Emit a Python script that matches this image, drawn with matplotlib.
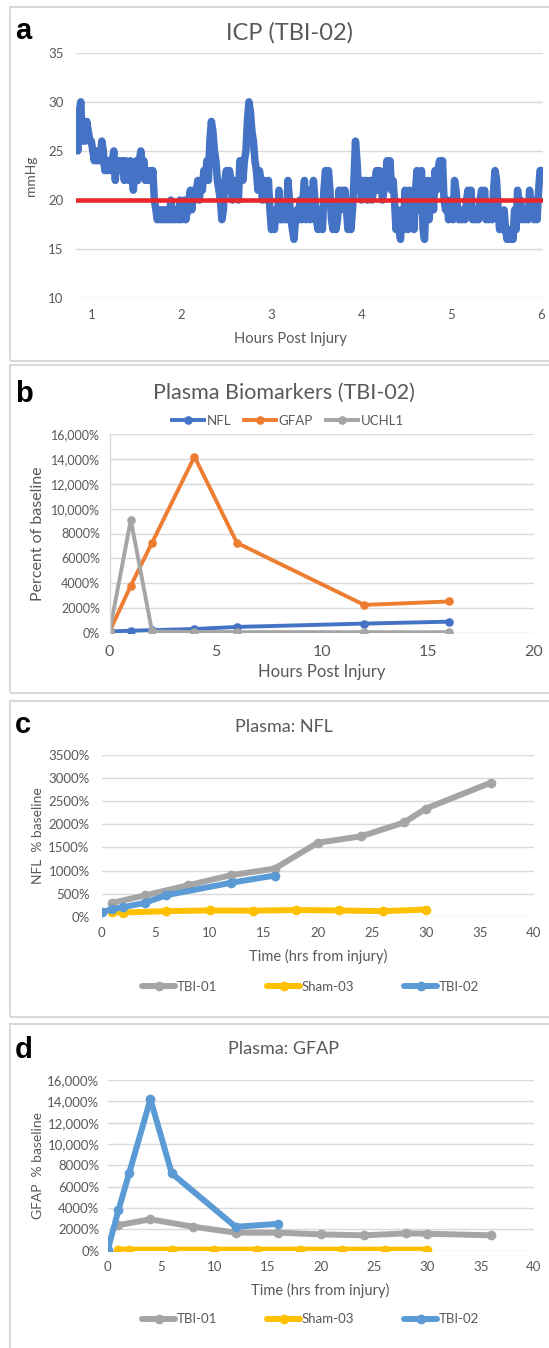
import numpy as np
import matplotlib
matplotlib.use("Agg")
import matplotlib.pyplot as plt
from matplotlib.patches import Rectangle

# ---------------- data ----------------
# (a) ICP trace, one reading per minute starting at minute 50 post injury
icp_start_min = 50
icp_mmhg = [
    27, 25, 29, 30, 26, 28, 26, 28, 27, 26,
    26, 25, 24, 25, 24, 25, 24, 26, 25, 23,
    24, 23, 24, 23, 24, 25, 22, 24, 23, 24,
    23, 24, 22, 24, 23, 22, 24, 23, 21, 23,
    24, 22, 24, 25, 23, 24, 22, 23, 22, 23,
    22, 23, 20, 19, 18, 19, 18, 19, 18, 19,
    18, 19, 18, 20, 18, 19, 18, 19, 18, 20,
    18, 19, 20, 18, 19, 20, 21, 19, 21, 20,
    21, 22, 20, 22, 21, 23, 22, 24, 22, 26,
    28, 27, 25, 24, 22, 21, 20, 18, 19, 22,
    23, 21, 23, 22, 20, 22, 21, 22, 20, 24,
    24, 22, 24, 25, 28, 30, 29, 27, 26, 24,
    23, 21, 23, 22, 20, 22, 21, 20, 22, 19,
    17, 18, 17, 19, 18, 21, 18, 19, 18, 19,
    18, 22, 20, 18, 17, 16, 18, 19, 18, 20,
    18, 20, 22, 18, 19, 21, 18, 20, 22, 20,
    18, 17, 19, 18, 17, 21, 23, 22, 23, 21,
    18, 17, 19, 17, 18, 21, 19, 21, 20, 21,
    19, 17, 18, 17, 19, 22, 26, 24, 21, 22,
    20, 22, 21, 22, 20, 21, 22, 20, 21, 22,
    23, 21, 23, 22, 20, 21, 22, 24, 22, 24,
    21, 22, 20, 17, 19, 17, 16, 19, 17, 21,
    20, 17, 21, 18, 20, 17, 21, 23, 19, 22,
    23, 17, 16, 20, 22, 18, 21, 22, 19, 23,
    21, 23, 24, 22, 24, 20, 19, 20, 18, 19,
    20, 18, 22, 21, 19, 18, 19, 18, 19, 18,
    20, 21, 19, 21, 18, 19, 18, 19, 18, 20,
    21, 19, 21, 18, 19, 18, 19, 18, 21, 23,
    22, 19, 17, 18, 17, 19, 17, 16, 17, 16,
    17, 16, 19, 17, 21, 19, 20, 18, 19, 18,
    19, 18, 21, 19, 20, 18, 19, 18, 21, 23,
    23,
]
icp_threshold = 20
icp_yticks = [10, 15, 20, 25, 30, 35]
icp_xticks = [1, 2, 3, 4, 5, 6]

# (b) TBI-02 plasma biomarkers, % of baseline
tbi02_hours = [0, 1, 2, 4, 6, 12, 16]
tbi02_nfl = [100, 160, 205, 300, 465, 735, 890]
tbi02_gfap = [100, 3800, 7250, 14200, 7250, 2240, 2520]
tbi02_uchl1 = [100, 9100, 100, 60, 50, 40, 40]

# (c, d) other animals
tbi01_hours = [1, 4, 8, 12, 16, 20, 24, 28, 30, 36]
tbi01_nfl = [300, 460, 680, 900, 1040, 1600, 1740, 2040, 2340, 2900]
tbi01_gfap = [2400, 2940, 2250, 1690, 1690, 1530, 1440, 1625, 1590, 1440]
sham03_hours = [1, 2, 6, 10, 14, 18, 22, 26, 30]
sham03_nfl = [100, 90, 120, 135, 130, 145, 135, 120, 155]
sham03_gfap = [110, 105, 100, 100, 100, 105, 100, 100, 100]

big_ticks = [0, 2000, 4000, 6000, 8000, 10000, 12000, 14000, 16000]
big_labels = ["0%", "2000%", "4000%", "6000%", "8000%",
              "10,000%", "12,000%", "14,000%", "16,000%"]
nfl_ticks = [0, 500, 1000, 1500, 2000, 2500, 3000, 3500]
nfl_labels = ["0%", "500%", "1000%", "1500%", "2000%", "2500%", "3000%", "3500%"]

# ---------------- style ----------------
plt.rcParams['font.family'] = ['Lato', 'DejaVu Sans']
TXT = '#595959'
GRID = '#D9D9D9'
C_BLUE, C_ORANGE, C_GRAY = '#4472C4', '#ED7D31', '#A5A5A5'
C_GOLD, C_LBLUE = '#FFC000', '#5B9BD5'

W, H = 549, 1348
fig = plt.figure(figsize=(W / 100, H / 100), dpi=100)


def px_axes(l, t, r, b):
    return fig.add_axes([l / W, 1 - b / H, (r - l) / W, (b - t) / H])


def ftext(x, y, s, **kw):
    kw.setdefault('color', TXT)
    kw.setdefault('ha', 'center')
    kw.setdefault('va', 'center')
    return fig.text(x / W, 1 - y / H, s, **kw)


def frame(top, bottom):
    fig.add_artist(Rectangle((10 / W, 1 - bottom / H), 560 / W, (bottom - top) / H,
                             transform=fig.transFigure, fill=False,
                             edgecolor=GRID, lw=1.5))


def style_axes(ax, ysize, xsize, ypad, xpad, left_spine=False):
    for s in ax.spines.values():
        s.set_visible(False)
    if left_spine:
        ax.spines['left'].set_visible(True)
        ax.spines['left'].set_color(GRID)
        ax.spines['left'].set_linewidth(1.0)
    ax.yaxis.grid(True, color=GRID, lw=1.0)
    ax.set_axisbelow(True)
    ax.tick_params(axis='y', length=0, labelsize=ysize, labelcolor=TXT, pad=ypad)
    ax.tick_params(axis='x', length=0, labelsize=xsize, labelcolor=TXT, pad=xpad)


def panel_letter(x, y, s):
    fig.text(x / W, 1 - y / H, s, fontsize=21, fontweight='bold',
             family=['Liberation Sans', 'DejaVu Sans'], color='black',
             ha='left', va='baseline')


frame(7.3, 360.7)
frame(365, 693.3)
frame(701, 1017.3)
frame(1024, 1360)

# ---------------- (a) ICP ----------------
ax = px_axes(76, 52.7, 543.4, 298.3)
t_hours = (icp_start_min + np.arange(len(icp_mmhg))) / 60.0
ax.plot(t_hours, icp_mmhg, color=C_BLUE, lw=5.4,
        solid_joinstyle='round', solid_capstyle='round', zorder=2)
ax.axhline(icp_threshold, color='#E8262B', lw=3.3, zorder=3)
ax.set_xlim(0.83, 6.02)
ax.set_ylim(10, 35)
ax.set_yticks(icp_yticks)
ax.set_xticks(icp_xticks)
style_axes(ax, 9.5, 9.5, 9, 8)
ftext(290, 33, 'ICP (TBI-02)', fontsize=17)
ftext(290, 339, 'Hours Post Injury', fontsize=10.5)
ftext(31.5, 175.5, 'mmHg', fontsize=10, rotation=90)
panel_letter(15, 39, 'a')

# ---------------- (b) TBI-02 biomarkers ----------------
ax = px_axes(109.6, 434.3, 534, 632.7)
kw_b = dict(lw=2.8, marker='o', ms=6.2, mew=0, solid_joinstyle='round')
ax.plot(tbi02_hours, tbi02_nfl, color=C_BLUE, label='NFL', **kw_b)
ax.plot(tbi02_hours, tbi02_gfap, color=C_ORANGE, label='GFAP', **kw_b)
ax.plot(tbi02_hours, tbi02_uchl1, color=C_GRAY, label='UCHL1', **kw_b)
ax.set_xlim(0, 20)
ax.set_ylim(0, 16000)
ax.set_yticks(big_ticks, labels=big_labels)
ax.set_xticks([0, 5, 10, 15, 20])
style_axes(ax, 9, 11.5, 7, 8.5, left_spine=True)
ax.legend(loc='center', bbox_to_anchor=(288 / W, 1 - 421 / H),
          bbox_transform=fig.transFigure, ncol=3, frameon=False,
          fontsize=9.5, labelcolor=TXT, handlelength=2.4, handletextpad=0.2,
          columnspacing=1.0, borderpad=0, borderaxespad=0)
ftext(284, 392.5, 'Plasma Biomarkers (TBI-02)', fontsize=15.5)
ftext(322, 671.7, 'Hours Post Injury', fontsize=12)
ftext(38.5, 533.5, 'Percent of baseline', fontsize=11.5, rotation=90)
panel_letter(15, 401.5, 'b')

# ---------------- (c) NFL ----------------
kw_cd = dict(lw=4.3, marker='o', ms=7, mew=0,
             solid_joinstyle='round', solid_capstyle='round')
ax = px_axes(101.5, 755, 534, 916.7)
ax.plot(tbi01_hours, tbi01_nfl, color=C_GRAY, label='TBI-01', **kw_cd)
ax.plot(sham03_hours, sham03_nfl, color=C_GOLD, label='Sham-03', **kw_cd)
ax.plot(tbi02_hours, tbi02_nfl, color=C_LBLUE, label='TBI-02', **kw_cd)
ax.set_xlim(0, 40)
ax.set_ylim(0, 3500)
ax.set_yticks(nfl_ticks, labels=nfl_labels)
ax.set_xticks(range(0, 41, 5))
style_axes(ax, 9.5, 9.5, 8.5, 7.5)
ax.legend(loc='center', bbox_to_anchor=(310.5 / W, 1 - 986.7 / H),
          bbox_transform=fig.transFigure, ncol=3, frameon=False,
          fontsize=9.5, labelcolor=TXT, handlelength=2.5, handletextpad=0.1,
          columnspacing=3.8, borderpad=0, borderaxespad=0)
ftext(284.5, 726.7, 'Plasma: NFL', fontsize=13)
ftext(318, 956.7, 'Time (hrs from injury)', fontsize=10.5)
ftext(38.5, 835.9, 'NFL  % baseline', fontsize=10, rotation=90)
panel_letter(15, 733, 'c')

# ---------------- (d) GFAP ----------------
ax = px_axes(107.8, 1080, 534, 1250.7)
ax.plot(tbi01_hours, tbi01_gfap, color=C_GRAY, label='TBI-01', **kw_cd)
ax.plot(sham03_hours, sham03_gfap, color=C_GOLD, label='Sham-03', **kw_cd)
ax.plot(tbi02_hours, tbi02_gfap, color=C_LBLUE, label='TBI-02', **kw_cd)
ax.set_xlim(0, 40)
ax.set_ylim(0, 16000)
ax.set_yticks(big_ticks, labels=big_labels)
ax.set_xticks(range(0, 41, 5))
style_axes(ax, 9.5, 9.5, 6, 7.5)
ax.legend(loc='center', bbox_to_anchor=(310.5 / W, 1 - 1319.3 / H),
          bbox_transform=fig.transFigure, ncol=3, frameon=False,
          fontsize=9.5, labelcolor=TXT, handlelength=2.5, handletextpad=0.1,
          columnspacing=3.8, borderpad=0, borderaxespad=0)
ftext(283.6, 1049.3, 'Plasma: GFAP', fontsize=13)
ftext(320, 1290, 'Time (hrs from injury)', fontsize=10.5)
ftext(38.5, 1165.4, 'GFAP  % baseline', fontsize=10, rotation=90)
panel_letter(15, 1058, 'd')

fig.savefig('out.png', dpi=100, facecolor='white')
